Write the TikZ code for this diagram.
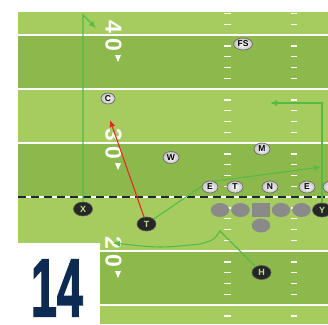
\documentclass[tikz,border=0pt]{standalone}
\usepackage{fontspec}
\setmainfont{Liberation Sans}
\newfontfamily\jerseyfont[FakeBold=2]{Liberation Sans Bold}
\usetikzlibrary{arrows.meta,shapes.geometric}
\definecolor{fdLight}{HTML}{A6CC60}
\definecolor{fdDark}{HTML}{8DB94C}
\definecolor{tokRim}{HTML}{6B6B6B}
\definecolor{tokGray}{HTML}{C4C4C4}
\definecolor{olGray}{HTML}{8A8A8A}
\definecolor{skInk}{HTML}{262626}
\definecolor{skRim}{HTML}{555555}
\definecolor{skText}{HTML}{B9E08E}
\definecolor{rtGreen}{HTML}{55BB46}
\definecolor{rtRed}{HTML}{E32B22}
\definecolor{losInk}{HTML}{1E2A33}
\definecolor{navy}{HTML}{0D2B52}
\tikzset{
  defender/.style={ellipse,draw=tokRim,line width=.7pt,inner sep=0pt,
    minimum width=16pt,minimum height=12pt,inner color=white,outer color=tokGray,
    text=black,font=\bfseries\fontsize{8.5}{9}\selectfont},
  lineman/.style={ellipse,fill=olGray,inner sep=0pt,minimum width=18.5pt,minimum height=14pt},
  snapper/.style={rectangle,fill=olGray,inner sep=0pt,minimum width=18pt,minimum height=14pt},
  skill/.style={ellipse,fill=skInk,draw=skRim,line width=.6pt,inner sep=0pt,
    minimum width=19pt,minimum height=14pt,text=skText,font=\bfseries\fontsize{9}{9}\selectfont},
  route/.style={draw=rtGreen,line width=1.1pt,-{Latex[length=7pt,width=6pt]}},
  hotroute/.style={route,draw=rtRed},
  yardline/.style={draw=white,line width=1.4pt},
  hash/.style={draw=white,line width=1.4pt},
  yardnum/.style={text=white,font=\bfseries\fontsize{23}{23}\selectfont,inner sep=0pt,rotate=-90},
}

\begin{document}
\begin{tikzpicture}[x=1pt,y=-1pt]
  \useasboundingbox (0,0) rectangle (328,324);
  \begin{scope}
    \clip (18,12) rectangle (328,324);
    % field stripes, yard lines and hashes
    \fill[fdLight] (18,12) rectangle (328,324);
    \foreach \yl in {35,143,251}
      \fill[fdDark] (18,\yl) rectangle (328,\yl+54);
    \foreach \yl in {35,89,143,251,305}
      \draw[yardline] (18,\yl) -- (328,\yl);
    \foreach \yl in {-19,35,89,143,197,251,305}
      \foreach \j in {1,...,4} {
        \draw[hash] (224,\yl+10.8*\j) -- (231,\yl+10.8*\j);
        \draw[hash] (291,\yl+10.8*\j) -- (297,\yl+10.8*\j);
      }
    \draw[white,line width=2pt] (18,197) -- (328,197);
    \draw[losInk,line width=2pt,dash pattern=on 8pt off 5pt] (18,197) -- (328,197);
    % yard numbers
    \node[yardnum] (n40a) at (113.5,26.5) {4};
    \node[yardnum] (n40b) at (113.5,44.5) {0};
    \node[yardnum] (n30a) at (113.5,134.5) {3};
    \node[yardnum] (n30b) at (113.5,152.5) {0};
    \node[yardnum] (n20a) at (113.5,242.5) {2};
    \node[yardnum] (n20b) at (113.5,260.5) {0};
    \foreach \yl in {35,143,251}
      \fill[white] (115,\yl+20) -- (121,\yl+20) -- (118,\yl+27) -- cycle;
    % offense
    \node[lineman] (lt) at (220,210) {};
    \node[lineman] (lg) at (240.5,210) {};
    \node[snapper] (ctr) at (260.5,210) {};
    \node[lineman] (rg) at (281,210) {};
    \node[lineman] (rt) at (301.5,210) {};
    \node[lineman] (qb) at (261,225.5) {};
    \node[skill] (xrec) at (83,209) {X};
    \node[skill] (trec) at (146.5,224) {T};
    \node[skill] (hrec) at (261.5,272.5) {H};
    \node[skill] (yrec) at (322,210) {Y};
    % routes
    \coordinate (xstem) at (83,15);
    \coordinate (xend) at (96,28);
    \coordinate (cend) at (110,120);
    \coordinate (tbend) at (208,182);
    \coordinate (tend) at (321,167);
    \coordinate (ystem) at (322,103);
    \coordinate (yend) at (270,103);
    \coordinate (hturn) at (220,231);
    \coordinate (hend) at (113,243);
    \draw[route] (xrec) -- (xstem) -- (xend);
    \draw[hotroute] (trec) -- (cend);
    \draw[route] (trec) -- (tbend) -- (tend);
    \draw[route] (yrec) -- (ystem) -- (yend);
    \draw[route] (hrec) -- (hturn) .. controls (214,240) .. (200,244)
      .. controls (160,248) .. (hend);
    % defense
    \node[defender,minimum width=19pt] (fs) at (243,44) {FS};
    \node[defender,minimum width=14pt,minimum height=11pt] (corner) at (108,98.5) {C};
    \node[defender] (will) at (171,157.5) {W};
    \node[defender] (mike) at (262,149) {M};
    \node[defender] (endL) at (210,187) {E};
    \node[defender] (tackle) at (235,187) {T};
    \node[defender] (nose) at (270,187) {N};
    \node[defender] (endR) at (307,187) {E};
    \node[defender] (edge) at (331,187) {};
  \end{scope}
  % jersey number
  \fill[white] (0,243) rectangle (100,324);
  \node[text=navy,inner sep=0pt,font=\jerseyfont\fontsize{82}{82}\selectfont]
    (jersey) at (57,288) {\scalebox{.57}[1]{14}};
\end{tikzpicture}
\end{document}
